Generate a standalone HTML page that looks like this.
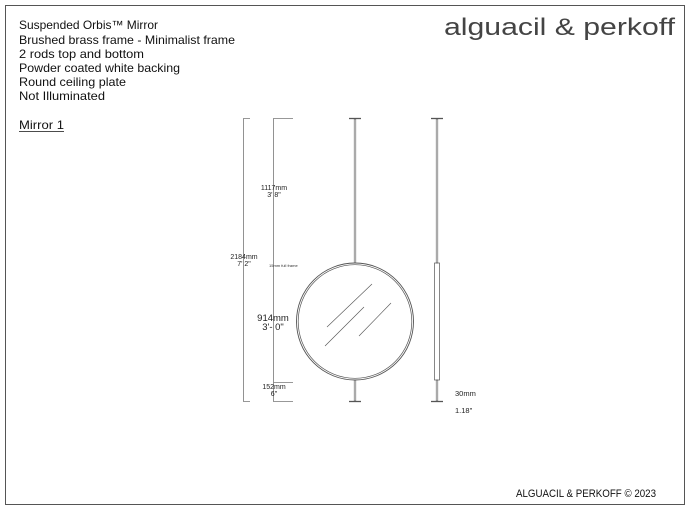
<!DOCTYPE html>
<html><head><meta charset="utf-8"><style>
html,body{margin:0;padding:0;background:#fff;width:690px;height:510px;overflow:hidden}
svg{display:block}
</style></head><body>
<svg width="690" height="510" viewBox="0 0 690 510" xmlns="http://www.w3.org/2000/svg" font-family="'Liberation Sans', sans-serif">
<rect x="5.5" y="5.5" width="679" height="499" fill="#fff" stroke="#555" stroke-width="1"/>
<g font-size="12" fill="#111" font-family="'Liberation Sans', sans-serif">
<text x="19" y="29" textLength="139" lengthAdjust="spacingAndGlyphs">Suspended Orbis™ Mirror</text>
<text x="19" y="44" textLength="216" lengthAdjust="spacingAndGlyphs">Brushed brass frame - Minimalist frame</text>
<text x="19" y="58" textLength="125" lengthAdjust="spacingAndGlyphs">2 rods top and bottom</text>
<text x="19" y="72" textLength="161" lengthAdjust="spacingAndGlyphs">Powder coated white backing</text>
<text x="19" y="86" textLength="107" lengthAdjust="spacingAndGlyphs">Round ceiling plate</text>
<text x="19" y="100" textLength="86" lengthAdjust="spacingAndGlyphs">Not Illuminated</text>
<text x="19" y="129" textLength="45" lengthAdjust="spacingAndGlyphs">Mirror 1</text>
</g>
<line x1="19" y1="131.5" x2="64" y2="131.5" stroke="#111" stroke-width="0.8"/>
<text x="444" y="35" font-size="24" fill="#444" textLength="231" lengthAdjust="spacingAndGlyphs">alguacil &amp; perkoff</text>
<text x="516" y="497" font-size="11" fill="#111" textLength="140" lengthAdjust="spacingAndGlyphs">ALGUACIL &amp; PERKOFF © 2023</text>

<g stroke="#777" stroke-width="0.8" fill="none">
<polyline points="250,118.5 243.5,118.5 243.5,401.5 250,401.5"/>
<polyline points="293,118.5 273.5,118.5 273.5,401.5 293,401.5"/>
<line x1="273.5" y1="382.5" x2="293" y2="382.5"/>
</g>
<g stroke="#555" fill="none">
<line x1="349" y1="118.5" x2="361" y2="118.5" stroke-width="1.3"/>
<line x1="349" y1="401.5" x2="361" y2="401.5" stroke-width="1.3"/>
<rect x="354.2" y="119" width="1.6" height="144" stroke-width="0.6"/>
<rect x="354.2" y="380" width="1.6" height="21" stroke-width="0.6"/>
<circle cx="355" cy="321.5" r="58.5" stroke-width="0.9"/>
<circle cx="355" cy="321.5" r="56.8" stroke-width="0.7"/>
<line x1="327" y1="327" x2="372" y2="284" stroke-width="0.6"/>
<line x1="325" y1="346" x2="364" y2="307" stroke-width="0.6"/>
<line x1="359" y1="336" x2="391" y2="303" stroke-width="0.6"/>
<line x1="431" y1="118.5" x2="443" y2="118.5" stroke-width="1.3"/>
<line x1="431" y1="401.5" x2="443" y2="401.5" stroke-width="1.3"/>
<rect x="436.2" y="119" width="1.6" height="144" stroke-width="0.6"/>
<rect x="434.5" y="263" width="5" height="117" stroke-width="0.7"/>
<rect x="436.2" y="380" width="1.6" height="21" stroke-width="0.6"/>
</g>
<g fill="#222" font-size="7" text-anchor="middle">
<text x="274" y="190">1117mm</text>
<text x="274" y="197">3' 8"</text>
<text x="244" y="259">2184mm</text>
<text x="244" y="266">7' 2"</text>
<text x="274" y="389">152mm</text>
<text x="274" y="396">6"</text>
<text x="273" y="321" font-size="9.5">914mm</text>
<text x="273" y="330" font-size="9.5">3'- 0"</text>
</g>
<text x="269" y="267" font-size="4" fill="#333">15mm full frame</text>
<text x="455" y="396" font-size="7.5" fill="#222">30mm</text>
<text x="455" y="413" font-size="7.5" fill="#222">1.18"</text>
</svg>
</body></html>
